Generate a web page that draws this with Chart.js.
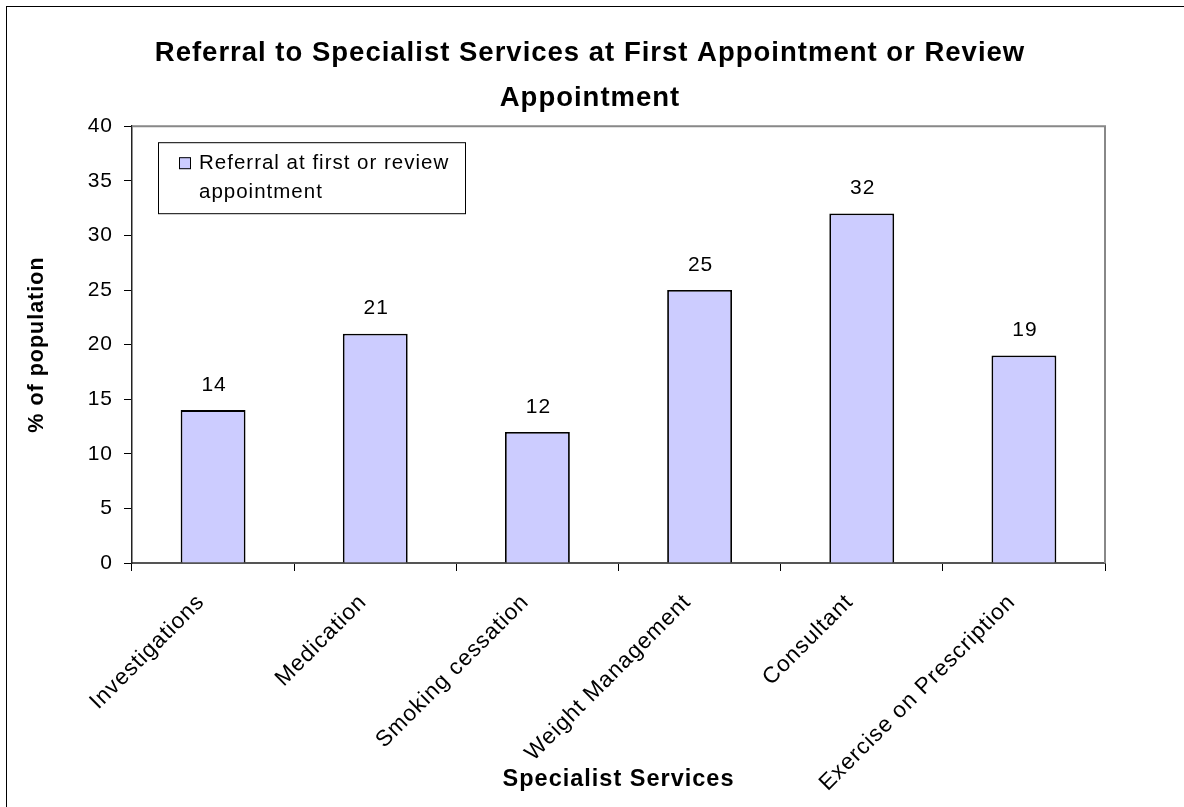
<!DOCTYPE html>
<html>
<head>
<meta charset="utf-8">
<script src="https://cdn.jsdelivr.net/npm/chart.js@4.4.1/dist/chart.umd.min.js"></script>
<style>
  html, body { margin: 0; padding: 0; background: #fff; }
  #wrap { position: relative; width: 1184px; height: 807px; overflow: hidden; }
  #frame { position: absolute; left: 6px; top: 6px; width: 1300px; height: 900px; border: 1px solid #000; }
  #chart { position: absolute; left: 0; top: 0; }
</style>
</head>
<body>
<div id="wrap">
  <div id="frame"></div>
  <canvas id="chart" width="1184" height="807"></canvas>
</div>
<script>
const services = ["Investigations", "Medication", "Smoking cessation", "Weight Management", "Consultant", "Exercise on Prescription"];
const referralPct = [14, 21, 12, 25, 32, 19];
const legendLines = ["Referral at first or review", "appointment"];
const titleLines = ["Referral to Specialist Services at First Appointment or Review", "Appointment"];

const barFill = "#ccccff";
const fontFamily = '"Liberation Sans", Arial, sans-serif';

Chart.defaults.font.family = fontFamily;
Chart.defaults.color = "#000";

// the original text is drawn a bit wide
const wideText = {
  id: "wideText",
  beforeDraw(chart) {
    chart.ctx.letterSpacing = "1px";
  }
};

// grey top/right edge of the plot area
const plotFrame = {
  id: "plotFrame",
  beforeDatasetsDraw(chart) {
    const { ctx, chartArea: a } = chart;
    ctx.save();
    ctx.strokeStyle = "#888";
    ctx.lineWidth = 2;
    ctx.beginPath();
    ctx.moveTo(a.left, a.top);
    ctx.lineTo(a.right, a.top);
    ctx.lineTo(a.right, a.bottom);
    ctx.stroke();
    ctx.restore();
  }
};

// value above every bar
const barValues = {
  id: "barValues",
  afterDatasetsDraw(chart) {
    const { ctx } = chart;
    ctx.save();
    ctx.font = "21px " + fontFamily;
    ctx.fillStyle = "#000";
    ctx.textAlign = "center";
    ctx.textBaseline = "middle";
    chart.getDatasetMeta(0).data.forEach((bar, i) => {
      ctx.fillText(chart.data.datasets[0].data[i], bar.x + 1, bar.y - 25);
    });
    ctx.restore();
  }
};

// boxed legend inside the plot, text on two lines
const boxLegend = {
  id: "boxLegend",
  afterDraw(chart) {
    const { ctx, chartArea: a } = chart;
    const ds = chart.data.datasets[0];
    const x = a.left + 26, y = a.top + 16, w = 307, h = 71;
    ctx.save();
    ctx.fillStyle = "#fff";
    ctx.fillRect(x, y, w, h);
    ctx.strokeStyle = "#000";
    ctx.lineWidth = 1;
    ctx.strokeRect(x + 0.5, y + 0.5, w, h);
    ctx.fillStyle = ds.backgroundColor;
    ctx.fillRect(x + 21, y + 15, 12, 12);
    ctx.strokeRect(x + 21.5, y + 15.5, 11, 11);
    ctx.fillStyle = "#000";
    ctx.font = "20.5px " + fontFamily;
    ctx.textBaseline = "middle";
    legendLines.forEach((t, i) => ctx.fillText(t, x + 41, y + 21 + i * 29));
    ctx.restore();
  }
};

// shift the title centre a bit to the right, like the original
const titleShift = {
  id: "titleShift",
  afterLayout(chart) {
    if (chart.titleBlock) {
      chart.titleBlock.left = 0;
      chart.titleBlock.right = 1180;
    }
  }
};

new Chart(document.getElementById("chart"), {
  type: "bar",
  data: {
    labels: services,
    datasets: [{
      label: legendLines.join(" "),
      data: referralPct,
      backgroundColor: barFill,
      borderColor: "#000",
      borderWidth: 1.8,
      barPercentage: 0.4,
      categoryPercentage: 1
    }]
  },
  options: {
    responsive: false,
    devicePixelRatio: 1,
    animation: false,
    layout: { padding: { top: 0, left: 0, right: 79, bottom: 0 } },
    plugins: {
      legend: { display: false },
      tooltip: { enabled: false },
      title: {
        display: true,
        text: titleLines,
        font: { size: 27.5, weight: "bold", lineHeight: 1.64 },
        padding: { top: 31, bottom: 5 }
      }
    },
    scales: {
      x: {
        grid: { drawOnChartArea: false, drawTicks: true, tickLength: 8, color: "#000" },
        border: { color: "#555", width: 2 },
        ticks: { font: { size: 22.5 }, minRotation: 45, maxRotation: 45, autoSkip: false, padding: 18, labelOffset: -12 },
        title: { display: true, text: "Specialist Services", font: { size: 23.5, weight: "bold" }, padding: { top: 0, bottom: 13 } },
        afterFit(scale) { scale.height = 244; }
      },
      y: {
        min: 0,
        max: 40,
        ticks: { stepSize: 5, font: { size: 21 }, padding: 11 },
        grid: { drawOnChartArea: false, drawTicks: true, tickLength: 8, color: "#000" },
        border: { color: "#222", width: 1.5 },
        title: { display: true, text: "% of population", font: { size: 21.5, weight: "bold" }, padding: { top: 24, bottom: 0 } },
        afterFit(scale) { scale.width = 132; }
      }
    }
  },
  plugins: [wideText, plotFrame, barValues, boxLegend, titleShift]
});
</script>
</body>
</html>
